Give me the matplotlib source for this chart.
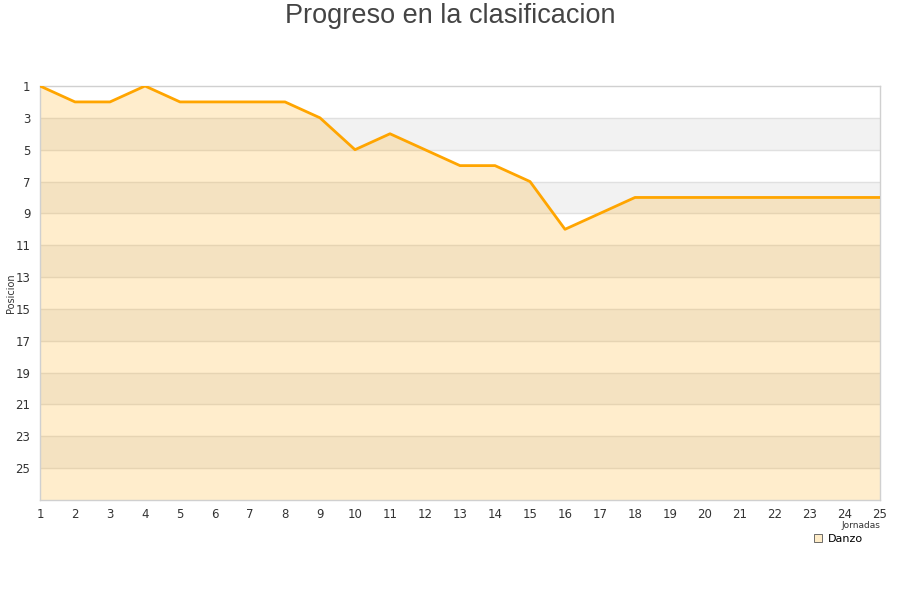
import matplotlib
matplotlib.use("Agg")
import matplotlib.pyplot as plt
from matplotlib.lines import Line2D

plt.rcParams['font.family'] = ['DejaVu Sans']

jornadas = list(range(1, 26))
posiciones = [1, 2, 2, 1, 2, 2, 2, 2, 3, 5, 4, 5, 6, 6, 7, 10, 9, 8, 8, 8, 8, 8, 8, 8, 8]
equipo = "Danzo"
titulo = "Progreso en la clasificacion"
y_ticks = list(range(1, 26, 2))
y_max = 27

fig = plt.figure(figsize=(9, 6), dpi=100)
ax = fig.add_axes([40/900, 100/600, 840/900, 414/600])

# bandas alternas de fondo
for i, t in enumerate(y_ticks):
    if i % 2 == 1:
        ax.axhspan(t, t + 2, color='#f2f2f2', zorder=0, lw=0)
for t in y_ticks[1:]:
    ax.axhline(t, color='#e0e0e0', lw=1, zorder=1)

ax.fill_between(jornadas, posiciones, y_max, color='#ffa500', alpha=0.2, lw=0, zorder=2)
ax.plot(jornadas, posiciones, color='#ffa500', lw=2, zorder=3)

ax.set_xlim(1, 25)
ax.set_ylim(y_max, 1)
ax.set_xticks(jornadas)
ax.set_yticks(y_ticks)
ax.tick_params(length=0, labelsize=8.5, labelcolor='#333333', pad=6)
ax.tick_params(axis='y', pad=7)
for s in ax.spines.values():
    s.set_color('#d0d0d0')
    s.set_linewidth(1)

fig.text(11/900, 1 - 293/600, "Posicion", rotation=90, ha='center', va='center',
         fontsize=7, color='#333333')
fig.text(880/900, 1 - 525/600, "Jornadas", ha='right', va='center', fontsize=6.5, color='#333333')

fig.suptitle(titulo, fontsize=19.5, color='#444444', y=1 - 16/600, va='center',
             family=['Liberation Sans', 'DejaVu Sans'])

handle = Line2D([], [], marker='s', linestyle='none', markersize=6,
                markerfacecolor='#feecc8', markeredgecolor='#555555', markeredgewidth=0.6)
leg = fig.legend([handle], [equipo], loc='center', bbox_to_anchor=(838/900, 1 - 539/600),
                 frameon=True, fontsize=8, handletextpad=0.4, borderpad=0.2,
                 handlelength=1)
leg.get_frame().set_facecolor('white')
leg.get_frame().set_edgecolor('white')
leg.get_frame().set_alpha(1)
leg.set_zorder(10)

fig.savefig("out.png", dpi=100)
